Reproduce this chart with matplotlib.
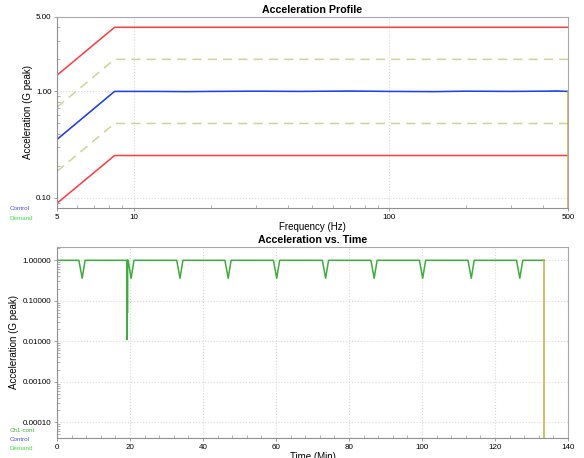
import numpy as np
import matplotlib
matplotlib.use("Agg")
from matplotlib import pyplot as plt
from matplotlib.ticker import LogLocator, FixedLocator, FixedFormatter, NullFormatter, MultipleLocator

plt.rcParams['font.family'] = ['Liberation Sans', 'DejaVu Sans']

# Profile (frequency domain) data
profile_freq = [5, 8.4, 500]
demand_level = [0.354, 1.0, 1.0]
abort_high = [1.42, 4.0, 4.0]
alarm_high = [0.71, 2.0, 2.0]
alarm_low = [0.177, 0.5, 0.5]
abort_low = [0.089, 0.25, 0.25]

control_freq = [5, 8.4, 12, 16, 20, 30, 45, 70, 100, 150, 200, 300, 400, 450, 500]
control_level = [0.354, 1.0, 1.0, 0.995, 1.0, 1.005, 1.0, 1.008, 1.0, 0.995, 1.005, 1.0, 1.005, 1.01, 1.0]

end_freq = [500, 500]
end_level = [1.0, 0.01]

# Time history data (minutes, G peak)
time_min = [0.0, 0.0, 0.05, 6.0, 6.9, 7.7, 19.15, 19.2, 19.25, 19.3, 19.35,
            19.5, 20.3, 21.1, 32.8, 33.7, 34.5, 46.0, 46.9, 47.7, 59.3, 60.2, 61.0,
            72.7, 73.6, 74.4, 86.0, 86.9, 87.7, 99.3, 100.2, 101.0, 112.6, 113.5,
            114.3, 125.9, 126.8, 127.6, 133.5]
accel_g = [3e-5, 0.05, 1.0, 1.0, 0.36, 1.0, 1.0, 0.011, 1.0, 0.05, 1.0,
           1.0, 0.36, 1.0, 1.0, 0.36, 1.0, 1.0, 0.36, 1.0, 1.0, 0.36, 1.0,
           1.0, 0.36, 1.0, 1.0, 0.36, 1.0, 1.0, 0.36, 1.0, 1.0, 0.36,
           1.0, 1.0, 0.36, 1.0, 1.0]
end_time = [133.5, 133.5]
end_accel = [1.0, 1e-5]

red = '#ff3b3b'
khaki = '#d2d294'
blue = '#1f3cff'
olive = '#b5b53c'
green = '#3cae3c'
spine_col = '#a8a8a8'
grid_col = '#d8d8d8'

fig = plt.figure(figsize=(5.84, 4.58), dpi=100)
ax1 = fig.add_axes([0.0976, 0.5459, 0.875, 0.417])
ax2 = fig.add_axes([0.0976, 0.0437, 0.875, 0.417])

# Top: acceleration profile
ax1.plot(profile_freq, abort_high, color=red, lw=1.1)
ax1.plot(profile_freq, abort_low, color=red, lw=1.1)
ax1.plot(profile_freq, alarm_high, color=khaki, lw=1.1, dashes=(6, 4))
ax1.plot(profile_freq, alarm_low, color=khaki, lw=1.1, dashes=(6, 4))
ax1.plot(profile_freq, demand_level, color='#30c030', lw=0.7)
ax1.plot(control_freq, control_level, color=blue, lw=1.1)
ax1.plot(end_freq, end_level, color=olive, lw=1.1)
ax1.set_xscale('log')
ax1.set_yscale('log')
ax1.set_xlim(5, 500)
ax1.set_ylim(0.0804, 5.0)
ax1.xaxis.set_major_locator(FixedLocator([5, 10, 100, 500]))
ax1.xaxis.set_major_formatter(FixedFormatter(['5', '10', '100', '500']))
ax1.xaxis.set_minor_locator(LogLocator(base=10, subs=np.arange(2, 10)))
ax1.xaxis.set_minor_formatter(NullFormatter())
ax1.yaxis.set_major_locator(FixedLocator([0.1, 1.0, 5.0]))
ax1.yaxis.set_major_formatter(FixedFormatter(['0.10', '1.00', '5.00']))
ax1.yaxis.set_minor_locator(LogLocator(base=10, subs=np.arange(2, 10)))
ax1.yaxis.set_minor_formatter(NullFormatter())
for xv in [10, 100]:
    ax1.axvline(xv, color=grid_col, lw=0.8, ls=':', zorder=0)
for yv in [0.1, 1.0]:
    ax1.axhline(yv, color=grid_col, lw=0.8, ls=':', zorder=0)
ax1.set_title('Acceleration Profile', fontsize=7.7, fontweight='bold', pad=3)
ax1.set_xlabel('Frequency (Hz)', fontsize=7, labelpad=1)
ax1.set_ylabel('Acceleration (G peak)', fontsize=7, labelpad=2)

# Bottom: acceleration vs time
ax2.plot(time_min, accel_g, color=green, lw=1.1)
ax2.plot(end_time, end_accel, color=olive, lw=1.1)
ax2.set_yscale('log')
ax2.set_xlim(0, 140)
ax2.set_ylim(4.1e-5, 2.13)
ax2.xaxis.set_major_locator(MultipleLocator(20))
ax2.xaxis.set_minor_locator(MultipleLocator(4))
ax2.yaxis.set_major_locator(FixedLocator([1e-4, 1e-3, 1e-2, 1e-1, 1.0]))
ax2.yaxis.set_major_formatter(FixedFormatter(
    ['0.00010', '0.00100', '0.01000', '0.10000', '1.00000']))
ax2.yaxis.set_minor_locator(LogLocator(base=10, subs=np.arange(2, 10)))
ax2.yaxis.set_minor_formatter(NullFormatter())
ax2.grid(True, which='major', color=grid_col, lw=0.8, ls=':')
ax2.set_axisbelow(True)
ax2.set_title('Acceleration vs. Time', fontsize=7.7, fontweight='bold', pad=3)
ax2.set_xlabel('Time (Min)', fontsize=7, labelpad=1)
ax2.set_ylabel('Acceleration (G peak)', fontsize=7, labelpad=2.5)

for ax in (ax1, ax2):
    for s in ax.spines.values():
        s.set_color(spine_col)
        s.set_linewidth(0.8)
    ax.spines['left'].set_color('#909090')
    ax.spines['bottom'].set_color('#909090')
    ax.tick_params(which='major', direction='out', labelsize=5.8, color='#909090',
                   length=2.5, width=0.6, pad=1.5)
    ax.tick_params(which='minor', direction='in', color='#909090', length=2, width=0.5)

# legend-like texts
fig.text(0.017, 1 - 209 / 458, 'Control', color='#4a4aff', fontsize=4.5, va='center')
fig.text(0.017, 1 - 218 / 458, 'Demand', color='#40e040', fontsize=4.5, va='center')
fig.text(0.017, 1 - 431 / 458, 'Ch1-cont', color=green, fontsize=4.5, va='center')
fig.text(0.017, 1 - 439.5 / 458, 'Control', color='#4a4aff', fontsize=4.5, va='center')
fig.text(0.017, 1 - 448 / 458, 'Demand', color='#40e040', fontsize=4.5, va='center')

fig.savefig('out.png', dpi=100)
